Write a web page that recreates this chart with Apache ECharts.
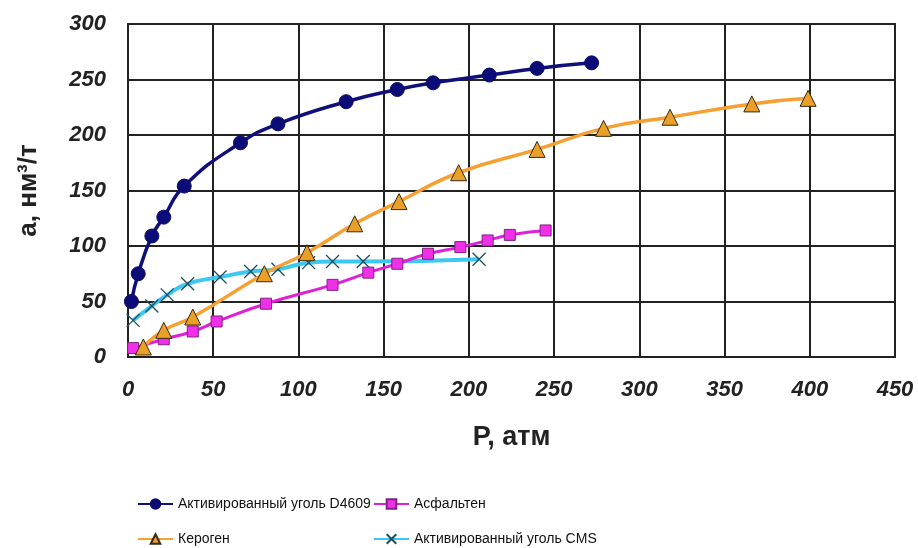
<!DOCTYPE html>
<html><head><meta charset="utf-8">
<script src="https://cdn.jsdelivr.net/npm/echarts@6/dist/echarts.min.js"></script>
<style>html,body{margin:0;padding:0;background:#fff}#c{width:918px;height:548px}</style>
</head><body><div id="c"></div>
<script>
// Data
var xTicks = [0,50,100,150,200,250,300,350,400,450];
var yTicks = [0,50,100,150,200,250,300];
var nameD4609 = 'Активированный уголь D4609';
var nameAsph = 'Асфальтен';
var nameKer = 'Кероген';
var nameCMS = 'Активированный уголь CMS';
var d4609 = [[2,50],[6,75],[14,109],[21,126],[33,154],[66,193],[88,210],[128,230],[158,241],[179,247],[212,254],[240,260],[272,265]];
var asph = [[3,8],[21,16],[38,23],[52,32],[81,48],[120,65],[141,76],[158,84],[176,93],[195,99],[211,105],[224,110],[245,114]];
var kerogen = [[9,9],[21,24],[38,36],[80,75],[105,94],[133,120],[159,140],[194,166],[240,187],[279,206],[318,216],[366,228],[399,233]];
var cms = [[3,33],[14,46],[23,56],[35,66],[54,72],[72,77],[88,79],[106,85],[120,86],[138,86],[206,88]];

var tickFont = {fontFamily:'Liberation Sans, Arial, sans-serif', fontWeight:'bold', fontStyle:'italic', fontSize:22, color:'#222'};
var legFont = {fontFamily:'Liberation Sans Narrow, Arial Narrow, Liberation Sans, sans-serif', fontSize:14, color:'#111'};
var crossPath = 'path://M0,0 L10,10 M10,0 L0,10';

function leg(name, left, top) {
  return {left:left, top:top, itemWidth:35, itemHeight:12, itemGap:5, textStyle:legFont, data:[name]};
}

var chart = echarts.init(document.getElementById('c'), null, {renderer:'canvas'});
chart.setOption({
  animation:false,
  backgroundColor:'#fff',
  grid:{left:128,right:23,top:24,bottom:191,show:true,borderColor:'#222',borderWidth:2},
  xAxis:{type:'value',min:0,max:450,interval:50,
    name:'P, атм',nameLocation:'middle',nameGap:67,
    nameTextStyle:{fontFamily:'Liberation Sans, Arial, sans-serif',fontWeight:'bold',fontSize:27,color:'#222'},
    axisLine:{show:true,lineStyle:{color:'#222',width:2}},axisTick:{show:false},
    axisLabel:Object.assign({margin:22},tickFont),
    splitLine:{show:true,lineStyle:{color:'#222',width:2}}},
  yAxis:{type:'value',min:0,max:300,interval:50,
    name:'a, нм³/т',nameLocation:'middle',nameGap:86,nameRotate:90,
    nameTextStyle:{fontFamily:'Liberation Sans, Arial, sans-serif',fontWeight:'bold',fontSize:26,color:'#222'},
    axisLine:{show:true,lineStyle:{color:'#222',width:2}},axisTick:{show:false},
    axisLabel:Object.assign({margin:22},tickFont),
    splitLine:{show:true,lineStyle:{color:'#222',width:2}}},
  legend:[
    leg(nameD4609,132,492),
    leg(nameKer,132,527),
    leg(nameAsph,368,492),
    leg(nameCMS,368,527)
  ],
  series:[
    {name:nameCMS,type:'line',smooth:0.5,data:cms,symbol:crossPath,symbolSize:13,
      lineStyle:{color:'#3cc8f0',width:4},itemStyle:{color:'rgba(0,0,0,0)',borderColor:'#1f4f5a',borderWidth:1.3},z:2},
    {name:nameAsph,type:'line',smooth:0.5,data:asph,symbol:'rect',symbolSize:11,
      lineStyle:{color:'#e020d8',width:3},itemStyle:{color:'#f030e8',borderColor:'#802080',borderWidth:1},z:3},
    {name:nameKer,type:'line',smooth:0.5,data:kerogen,symbol:'triangle',symbolSize:16,
      lineStyle:{color:'#f5a030',width:3.5},itemStyle:{color:'#eaa028',borderColor:'#3a2a10',borderWidth:1},z:4},
    {name:nameD4609,type:'line',smooth:0.5,data:d4609,symbol:'circle',symbolSize:14,
      lineStyle:{color:'#10107a',width:3.5},itemStyle:{color:'#0c0c78',borderColor:'#0c0c60',borderWidth:1},z:5}
  ]
});
</script></body></html>
